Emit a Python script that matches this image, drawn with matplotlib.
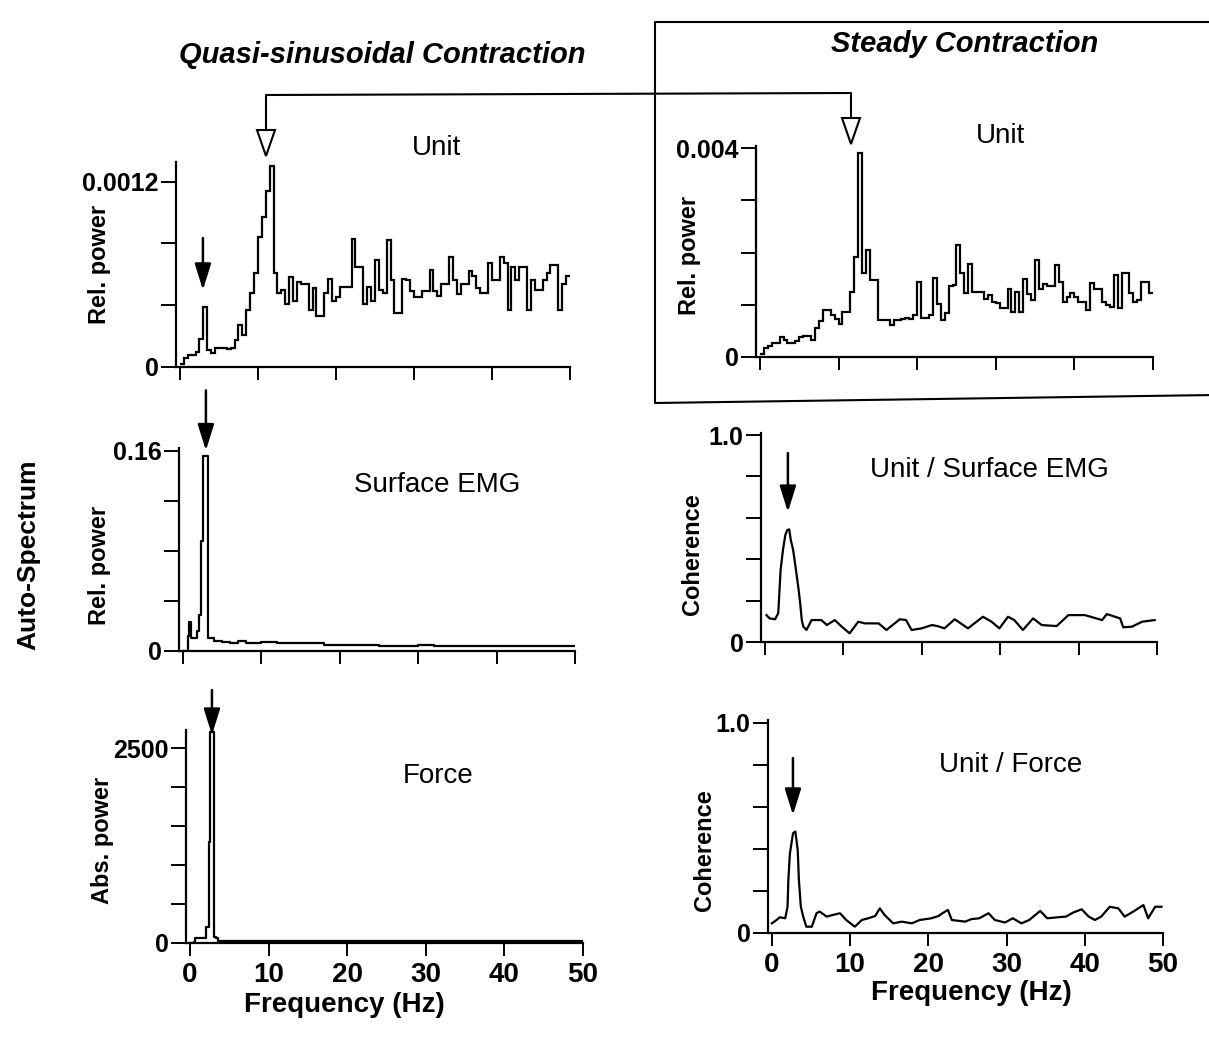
import numpy as np
import matplotlib.pyplot as plt
from matplotlib.patches import Polygon
from matplotlib.lines import Line2D

plt.rcParams['font.family'] = ['Liberation Sans', 'DejaVu Sans']

# ---- data ----
# unit auto-spectra, 0.5 Hz bins from 0 to 50 Hz
bin_edges = np.arange(0, 50.5, 0.5)
unit_quasi = np.array([
    0.2, 0.6, 0.8, 0.8, 1.0, 1.8, 3.9, 1.1, 0.9, 1.2,
    1.2, 1.2, 1.15, 1.2, 1.75, 2.7, 2.1, 3.7, 4.8, 6.1,
    8.4, 9.7, 11.4, 13.0, 6.1, 4.8, 5.0, 4.1, 5.8, 4.3,
    5.5, 5.4, 5.4, 3.7, 5.1, 3.3, 3.3, 4.8, 5.7, 4.3,
    4.5, 5.2, 5.2, 5.2, 8.3, 6.5, 6.5, 4.1, 5.2, 4.3,
    6.9, 5.0, 4.8, 8.2, 5.6, 3.5, 3.5, 5.7, 5.6, 4.9,
    4.5, 4.5, 4.9, 4.9, 6.3, 4.9, 4.6, 5.4, 5.4, 7.1,
    5.6, 4.7, 5.4, 5.4, 6.2, 5.9, 5.1, 4.8, 4.8, 6.7,
    5.6, 5.6, 7.1, 6.7, 3.7, 6.5, 5.6, 6.5, 6.5, 3.7,
    5.6, 5.0, 5.0, 5.6, 6.1, 6.6, 6.6, 3.7, 5.4, 5.9]) * 1e-4
unit_steady = np.array([
    0.05, 0.17, 0.22, 0.26, 0.26, 0.38, 0.33, 0.27, 0.27, 0.30,
    0.38, 0.40, 0.41, 0.32, 0.55, 0.68, 0.90, 0.90, 0.80, 0.72,
    0.64, 0.86, 0.86, 1.25, 1.92, 3.91, 1.60, 2.05, 1.47, 1.47,
    0.71, 0.71, 0.71, 0.61, 0.71, 0.71, 0.73, 0.74, 0.73, 0.80,
    1.44, 0.75, 0.75, 0.80, 1.51, 1.02, 0.70, 0.85, 1.36, 1.38,
    2.14, 1.60, 1.22, 1.79, 1.25, 1.25, 1.25, 1.12, 1.18, 1.06,
    1.03, 0.93, 0.93, 1.31, 0.87, 1.25, 0.87, 1.50, 1.20, 1.10,
    1.86, 1.31, 1.40, 1.35, 1.35, 1.76, 1.43, 1.06, 1.15, 1.22,
    1.15, 1.06, 1.06, 0.90, 1.41, 1.30, 1.30, 1.06, 1.00, 0.95,
    1.57, 0.93, 1.60, 1.60, 1.22, 1.06, 1.10, 1.43, 1.43, 1.22]) * 1e-3

# surface EMG auto-spectrum
emg_f = [0, 0.4, 0.6, 0.8, 1.0, 1.5, 1.8, 2.1, 2.35, 2.6, 3.0, 3.2, 4, 5, 6, 7, 8,
         10, 12, 14, 16, 18, 20, 22, 25, 28, 30, 32, 35, 38, 40, 42, 45, 48, 50]
emg_p = [0, 0.0, 0.012, 0.023, 0.010, 0.010, 0.016, 0.029, 0.088, 0.156, 0.156,
         0.010, 0.008, 0.007, 0.006, 0.008, 0.006, 0.007, 0.006, 0.006, 0.006,
         0.005, 0.005, 0.005, 0.004, 0.004, 0.005, 0.004, 0.004, 0.004, 0.004,
         0.004, 0.004, 0.004, 0.004]

# force auto-spectrum
force_f = [0, 0.5, 0.7, 1.5, 2.1, 2.4, 2.6, 3.0, 3.3, 3.6, 5, 10, 20, 30, 40, 50]
force_p = [0, 10, 60, 70, 200, 1300, 2700, 80, 60, 20, 20, 20, 20, 20, 20, 20]

# coherence unit / surface EMG
coh_emg_f = [0.2, 0.6, 1.3, 1.7, 2.0, 2.3, 2.6, 2.85, 3.1, 3.3, 3.6, 3.9, 4.25, 4.5,
             4.7, 4.9, 5.3, 5.95, 7.2, 7.9, 8.9, 9.8, 10.8, 11.9, 12.75, 14.5, 15.5,
             17.2, 18.0, 18.7, 20.0, 21.3, 22.0, 22.9, 24.2, 25.9, 27.8, 28.9, 29.9,
             31.0, 31.8, 32.9, 34.2, 35.3, 37.2, 38.7, 40.8, 43.0, 43.6, 45.3, 45.7,
             46.8, 48.1, 49.7]
coh_emg = [0.130, 0.114, 0.110, 0.139, 0.348, 0.444, 0.517, 0.541, 0.544, 0.493,
           0.444, 0.364, 0.267, 0.187, 0.106, 0.074, 0.058, 0.106, 0.106, 0.082,
           0.106, 0.074, 0.042, 0.098, 0.090, 0.090, 0.058, 0.110, 0.106, 0.058,
           0.066, 0.082, 0.077, 0.066, 0.110, 0.066, 0.122, 0.098, 0.066, 0.122,
           0.106, 0.058, 0.114, 0.082, 0.077, 0.130, 0.130, 0.106, 0.135, 0.114,
           0.071, 0.074, 0.098, 0.106]

# coherence unit / force
coh_force_f = [0.0, 0.6, 1.0, 1.7, 2.0, 2.1, 2.3, 2.5, 2.7, 3.0, 3.3, 3.45, 3.7, 4.0,
               4.4, 5.1, 5.7, 6.1, 7.0, 7.8, 8.7, 9.5, 10.6, 11.5, 12.3, 13.2, 13.8,
               14.4, 15.5, 16.6, 17.9, 18.9, 20.4, 21.3, 21.8, 22.5, 23.0, 24.7, 25.5,
               26.5, 27.7, 28.5, 29.8, 30.8, 31.9, 32.9, 34.3, 35.2, 36.6, 37.6, 38.5,
               39.6, 40.5, 41.3, 42.1, 43.2, 44.3, 45.1, 46.2, 47.5, 48.1, 49.0, 49.8]
coh_force = [0.046, 0.062, 0.075, 0.070, 0.125, 0.252, 0.379, 0.427, 0.475, 0.483,
             0.395, 0.252, 0.125, 0.078, 0.030, 0.030, 0.094, 0.102, 0.078, 0.086,
             0.094, 0.062, 0.030, 0.062, 0.070, 0.081, 0.117, 0.086, 0.046, 0.054,
             0.046, 0.062, 0.070, 0.081, 0.094, 0.110, 0.062, 0.054, 0.066, 0.070,
             0.094, 0.062, 0.050, 0.070, 0.046, 0.062, 0.105, 0.070, 0.075, 0.078,
             0.097, 0.113, 0.078, 0.062, 0.078, 0.125, 0.117, 0.078, 0.102, 0.133,
             0.070, 0.125, 0.125]

freq_ticks = [0, 10, 20, 30, 40, 50]

W, H = 1209, 1039
fig = plt.figure(figsize=(W / 100, H / 100), dpi=100)


def px_axes(left, right, bottom, top):
    return fig.add_axes([left / W, 1 - bottom / H, (right - left) / W, (bottom - top) / H])


def style(ax, ymax, yticks, ylabels, bottom_row=False):
    for s in ['top', 'right']:
        ax.spines[s].set_visible(False)
    for s in ['left', 'bottom']:
        ax.spines[s].set_linewidth(1.6)
    ax.set_xlim(-0.5, 50)
    ax.set_ylim(0, ymax)
    ax.set_yticks(yticks, ylabels, fontsize=18, fontweight='bold')
    if bottom_row:
        ax.set_xticks(freq_ticks, [str(t) for t in freq_ticks], fontsize=20, fontweight='bold')
    else:
        ax.set_xticks(freq_ticks, [])
    ax.tick_params(axis='y', length=11, width=1.4, pad=1.5)
    ax.tick_params(axis='x', length=9, width=1.4, pad=5)


def down_arrow(ax, f, tip, tail):
    ax.annotate('', xy=(f, tip), xytext=(f, tail), annotation_clip=False,
                arrowprops=dict(arrowstyle='-|>,head_length=0.8,head_width=0.25',
                                mutation_scale=20, lw=1.8, color='k',
                                shrinkA=0, shrinkB=0))


lw = 1.6

# top left: unit, quasi-sinusoidal
ax1 = px_axes(176, 570, 367, 162)
ax1.stairs(unit_quasi, bin_edges, baseline=None, color='k', lw=lw)
style(ax1, 0.001327, [0, 0.0004, 0.0008, 0.0012], ['0', '', '', '0.0012'])
ax1.set_ylabel('Rel. power', fontsize=17, fontweight='bold')
ax1.yaxis.set_label_coords(-0.165, 0.5)
ax1.text(0.662, 1.068, 'Unit', transform=ax1.transAxes, fontsize=20, ha='center', va='center')
down_arrow(ax1, 2.95, 0.000499, 0.000835)

# top right: unit, steady
ax2 = px_axes(756, 1153, 357, 146)
ax2.stairs(unit_steady, bin_edges, baseline=None, color='k', lw=lw)
style(ax2, 0.00404, [0, 0.001, 0.002, 0.003, 0.004], ['0', '', '', '', '0.004'])
ax2.set_ylabel('Rel. power', fontsize=17, fontweight='bold')
ax2.yaxis.set_label_coords(-0.139, 0.48)
ax2.text(0.615, 1.047, 'Unit', transform=ax2.transAxes, fontsize=20, ha='center', va='center')

# middle left: surface EMG
ax3 = px_axes(179, 575, 651, 448)
ax3.plot(emg_f, emg_p, color='k', lw=lw, drawstyle='steps-post')
style(ax3, 0.162, [0, 0.04, 0.08, 0.12, 0.16], ['0', '', '', '', '0.16'])
ax3.set_ylabel('Rel. power', fontsize=17, fontweight='bold')
ax3.yaxis.set_label_coords(-0.172, 0.42)
ax3.text(0.652, 0.818, 'Surface EMG', transform=ax3.transAxes, fontsize=20, ha='center', va='center')
down_arrow(ax3, 2.93, 0.16, 0.208)

# middle right: coherence unit / EMG
ax4 = px_axes(761, 1157, 642, 433)
ax4.plot(coh_emg_f, coh_emg, color='k', lw=lw)
style(ax4, 1.01, [0, 0.2, 0.4, 0.6, 0.8, 1.0], ['0', '', '', '', '', '1.0'])
ax4.set_ylabel('Coherence', fontsize=17, fontweight='bold')
ax4.yaxis.set_label_coords(-0.144, 0.42)
ax4.text(0.578, 0.823, 'Unit / Surface EMG', transform=ax4.transAxes, fontsize=20, ha='center', va='center')
down_arrow(ax4, 2.93, 0.628, 0.913)

# bottom left: force
ax5 = px_axes(186, 583, 943, 730)
ax5.plot(force_f, force_p, color='k', lw=lw, drawstyle='steps-post')
style(ax5, 2731, [0, 500, 1000, 1500, 2000, 2500], ['0', '', '', '', '', '2500'], bottom_row=True)
ax5.set_ylabel('Abs. power', fontsize=17, fontweight='bold')
ax5.yaxis.set_label_coords(-0.181, 0.48)
ax5.set_xlabel('Frequency (Hz)', fontsize=20, fontweight='bold')
ax5.xaxis.set_label_coords(0.40, -0.23)
ax5.text(0.635, 0.784, 'Force', transform=ax5.transAxes, fontsize=20, ha='center', va='center')
down_arrow(ax5, 2.8, 2667, 3244)

# bottom right: coherence unit / force
ax6 = px_axes(768, 1163, 933, 720)
ax6.plot(coh_force_f, coh_force, color='k', lw=lw)
style(ax6, 1.014, [0, 0.2, 0.4, 0.6, 0.8, 1.0], ['0', '', '', '', '', '1.0'], bottom_row=True)
ax6.set_ylabel('Coherence', fontsize=17, fontweight='bold')
ax6.yaxis.set_label_coords(-0.132, 0.39)
ax6.set_xlabel('Frequency (Hz)', fontsize=20, fontweight='bold')
ax6.xaxis.set_label_coords(0.516, -0.22)
ax6.text(0.613, 0.789, 'Unit / Force', transform=ax6.transAxes, fontsize=20, ha='center', va='center')
down_arrow(ax6, 2.69, 0.562, 0.833)

# titles and shared label
fig.text(382 / W, 1 - 55 / H, 'Quasi-sinusoidal Contraction', fontsize=21,
         fontweight='bold', fontstyle='italic', ha='center', va='center')
fig.text(965 / W, 1 - 44 / H, 'Steady Contraction', fontsize=21,
         fontweight='bold', fontstyle='italic', ha='center', va='center')
fig.text(28 / W, 1 - 555 / H, 'Auto-Spectrum', fontsize=19, fontweight='bold',
         rotation=90, ha='center', va='center')

# overlay in pixel units for the frame and the linking bracket
ov = fig.add_axes([0, 0, 1, 1])
ov.set_xlim(0, W)
ov.set_ylim(H, 0)
ov.axis('off')
ov.add_line(Line2D([1215, 655, 655, 1215], [22, 22, 403, 395], color='k', lw=1.5))
ov.add_line(Line2D([266, 266, 851, 851], [130, 95, 93, 118], color='k', lw=1.5))
ov.add_patch(Polygon([[257, 130], [275, 130], [266, 156]], closed=True,
                     facecolor='white', edgecolor='k', lw=1.5))
ov.add_patch(Polygon([[842, 118], [860, 118], [851, 144]], closed=True,
                     facecolor='white', edgecolor='k', lw=1.5))

fig.savefig('out.png', dpi=100)
